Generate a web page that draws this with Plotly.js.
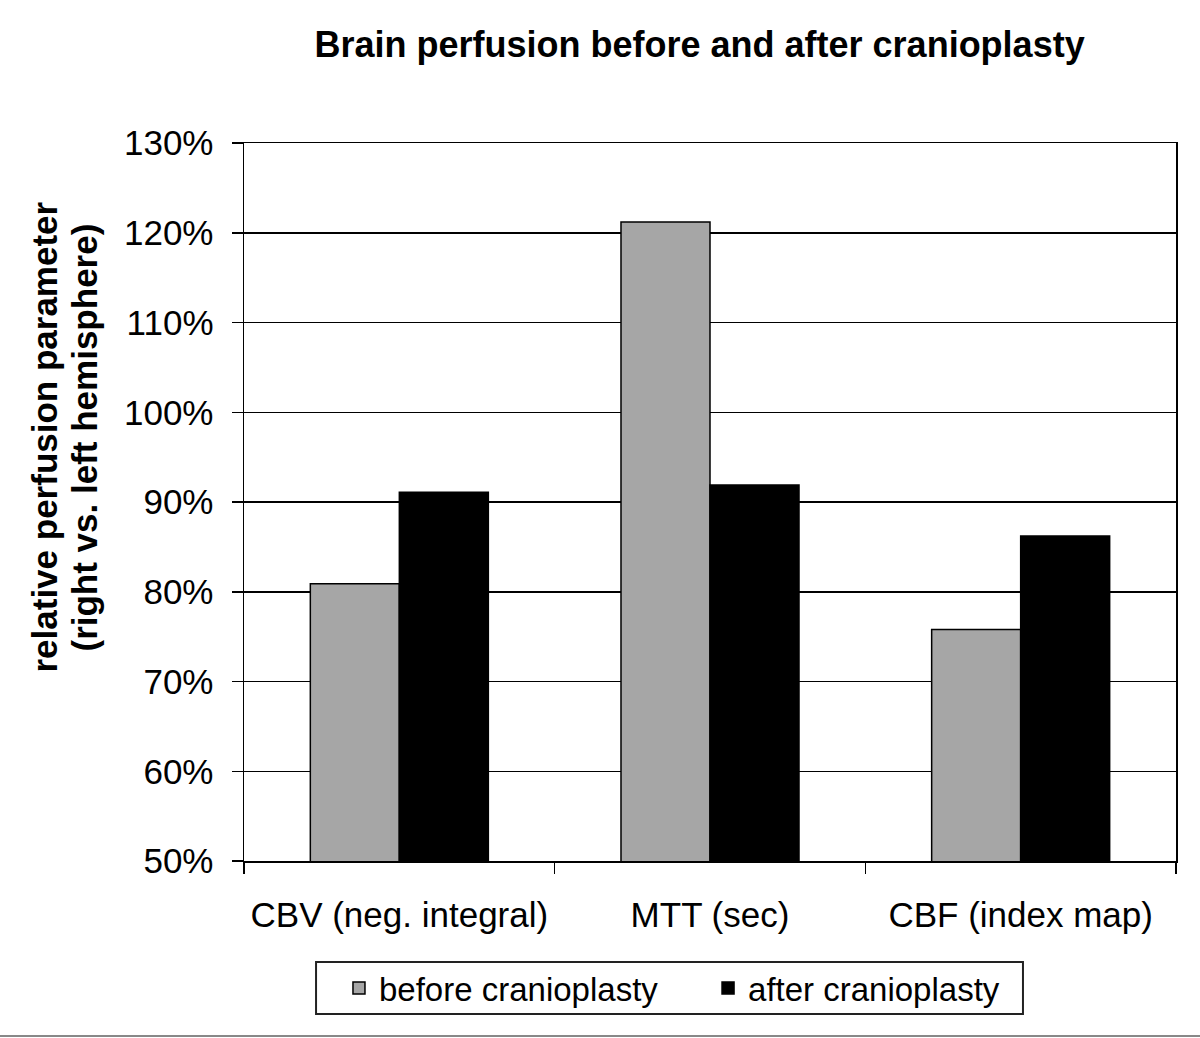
<!DOCTYPE html>
<html>
<head>
<meta charset="utf-8">
<script src="https://cdn.plot.ly/plotly-3.0.1.min.js"></script>
<style>html,body{margin:0;padding:0;background:#fff;}#chart{width:1200px;height:1038px;}</style>
</head>
<body>
<div id="chart"></div>
<script>
const categories = ["CBV (neg. integral)", "MTT (sec)", "CBF (index map)"];
const beforeValues = [0.809, 1.212, 0.758];
const afterValues = [0.911, 0.919, 0.862];
const seriesNames = ["before cranioplasty", "after cranioplasty"];
const yTickValues = [0.5, 0.6, 0.7, 0.8, 0.9, 1.0, 1.1, 1.2, 1.3];
const yTickLabels = ["50%", "60%", "70%", "80%", "90%", "100%", "110%", "120%", "130%"];
const yTitleLines = ["relative perfusion parameter", "(right vs. left hemisphere)"];
const chartTitle = "Brain perfusion before and after cranioplasty";

const FONT = "Arial, 'Liberation Sans', sans-serif";

const traces = [
  {
    type: "bar", name: seriesNames[0], x: categories, y: beforeValues,
    marker: {color: "#a6a6a6", line: {color: "#000", width: 1.5}},
    legend: "legend", hoverinfo: "none"
  },
  {
    type: "bar", name: seriesNames[1], x: categories, y: afterValues,
    marker: {color: "#000000", line: {color: "#000", width: 1.5}},
    legend: "legend2", hoverinfo: "none"
  }
];

const legendCommon = {
  orientation: "h",
  yanchor: "middle", y: -0.1769,
  xanchor: "left",
  bgcolor: "rgba(0,0,0,0)", borderwidth: 0,
  font: {family: FONT, size: 33, color: "#000"}
};

const layout = {
  width: 1200, height: 1038,
  paper_bgcolor: "#fff", plot_bgcolor: "#fff",
  font: {family: FONT, color: "#000", size: 35},
  margin: {l: 244, r: 24, t: 143, b: 177},
  barmode: "group",
  bargap: 0.427,
  bargroupgap: 0,
  title: {
    text: "<b>" + chartTitle + "</b>",
    font: {family: FONT, size: 36, color: "#000"},
    x: 0.583, xref: "container", xanchor: "center",
    y: 0.957, yref: "container", yanchor: "middle"
  },
  xaxis: {
    type: "category",
    tickson: "boundaries",
    ticks: "outside", ticklen: 11, tickcolor: "#000", tickwidth: 1.5,
    showline: true, linecolor: "#000", linewidth: 1.5, mirror: true,
    showgrid: false,
    tickfont: {family: FONT, size: 35, color: "#000"},
    ticklabelstandoff: 22,
    fixedrange: true
  },
  yaxis: {
    range: [0.5, 1.3],
    tickvals: yTickValues, ticktext: yTickLabels,
    ticks: "outside", ticklen: 11, tickcolor: "#000", tickwidth: 1.5,
    showline: true, linecolor: "#000", linewidth: 1.5, mirror: true,
    showgrid: true, gridcolor: "#000", gridwidth: 1.5,
    zeroline: false,
    tickfont: {family: FONT, size: 35, color: "#000"},
    ticklabelstandoff: 11,
    fixedrange: true
  },
  showlegend: true,
  legend: Object.assign({}, legendCommon, {x: 0.1019}),
  legend2: Object.assign({}, legendCommon, {x: 0.4979}),
  annotations: [
    {
      text: "<b>" + yTitleLines[0] + "</b>",
      xref: "paper", yref: "paper",
      x: -0.2135, y: 0.5898,
      xanchor: "center", yanchor: "middle",
      textangle: -90, showarrow: false,
      font: {family: FONT, size: 35, color: "#000"}
    },
    {
      text: "<b>" + yTitleLines[1] + "</b>",
      xref: "paper", yref: "paper",
      x: -0.1706, y: 0.5898,
      xanchor: "center", yanchor: "middle",
      textangle: -90, showarrow: false,
      font: {family: FONT, size: 35, color: "#000"}
    }
  ],
  shapes: [
    {
      type: "rect", xref: "paper", yref: "paper",
      x0: 0.0773, x1: 0.8358, y0: -0.1407, y1: -0.2131,
      line: {color: "#222", width: 2}, fillcolor: "rgba(0,0,0,0)"
    },
    {
      type: "line", xref: "paper", yref: "paper",
      x0: -0.2618, x1: 1.0258, y0: -0.2437, y1: -0.2437,
      line: {color: "#888", width: 2}
    }
  ]
};

Plotly.newPlot("chart", traces, layout, {displayModeBar: false, staticPlot: true});
</script>
</body>
</html>
